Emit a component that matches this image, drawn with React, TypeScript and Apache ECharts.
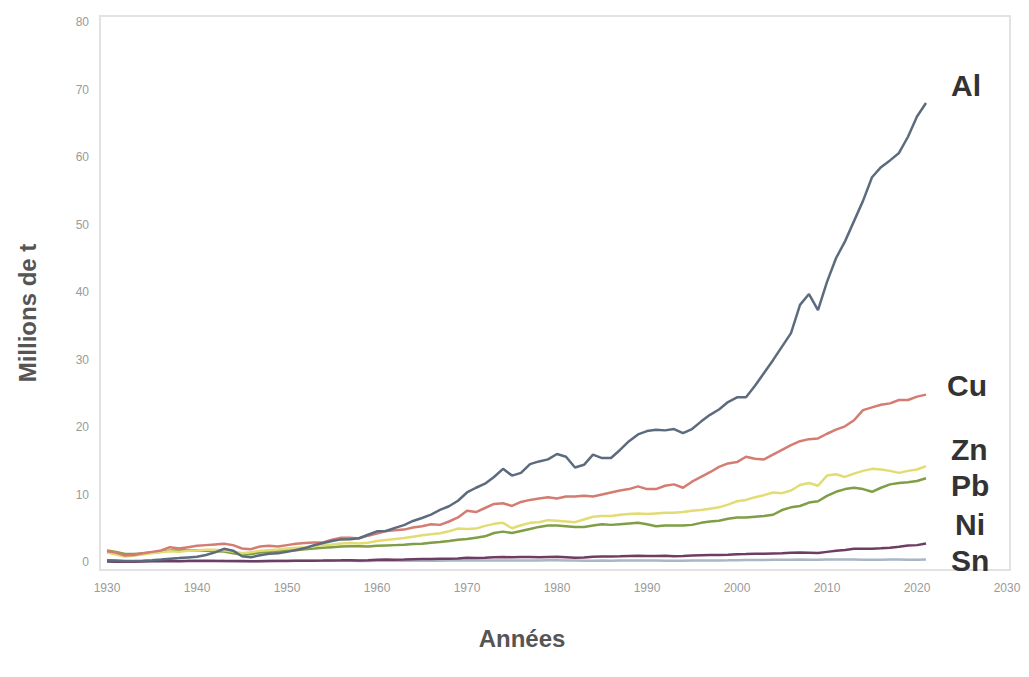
import React, { useEffect, useRef } from "react";
import * as echarts from "echarts";

const years: number[] = Array.from({ length: 92 }, (_, i) => 1930 + i);

const alValues = [
  0.27, 0.22, 0.15, 0.14, 0.17, 0.26, 0.36, 0.49, 0.58, 0.68,
  0.78, 1.03, 1.42, 1.95, 1.68, 0.86, 0.71, 0.99, 1.23, 1.28,
  1.5, 1.78, 2.06, 2.48, 2.81, 3.12, 3.35, 3.38, 3.52, 4.04,
  4.54, 4.59, 5.06, 5.47, 6.08, 6.52, 7.02, 7.71, 8.26, 9.08,
  10.3, 11.0, 11.6, 12.6, 13.8, 12.8, 13.2, 14.5, 14.9, 15.2,
  16.0, 15.6, 14.0, 14.4, 15.9, 15.4, 15.4, 16.6, 17.9, 18.9,
  19.4, 19.6, 19.5, 19.7, 19.1, 19.7, 20.8, 21.8, 22.6, 23.7,
  24.4, 24.4, 26.1, 28.0, 29.9, 31.9, 33.9, 38.1, 39.7, 37.3,
  41.5, 45.0, 47.5, 50.5, 53.5, 57.0, 58.5, 59.5, 60.6, 63.0,
  66.0, 68.0,
];

const cuValues = [
  1.6, 1.4, 0.95, 1.05, 1.3, 1.5, 1.7, 2.2, 2.0, 2.2,
  2.4, 2.5, 2.6, 2.7, 2.5, 2.0, 1.9, 2.3, 2.4, 2.3,
  2.5, 2.7, 2.8, 2.9, 2.9, 3.3, 3.6, 3.6, 3.5, 3.9,
  4.2, 4.6, 4.7, 4.8, 5.1, 5.3, 5.6, 5.5, 6.0, 6.6,
  7.6, 7.4, 8.0, 8.6, 8.7, 8.3, 8.9, 9.2, 9.4, 9.6,
  9.4, 9.7, 9.7, 9.8, 9.7, 10.0, 10.3, 10.6, 10.8, 11.2,
  10.8, 10.8, 11.3, 11.5, 11.0, 11.9, 12.6, 13.3, 14.1, 14.6,
  14.8, 15.6, 15.3, 15.2, 15.9, 16.6, 17.3, 17.9, 18.2, 18.3,
  19.0, 19.6, 20.1, 21.0, 22.5, 22.9, 23.3, 23.5, 24.0, 24.0,
  24.5, 24.8,
];

const znValues = [
  1.4, 1.1, 0.8, 0.95, 1.1, 1.3, 1.45, 1.6, 1.5, 1.65,
  1.7, 1.8, 1.8, 1.75, 1.55, 1.3, 1.45, 1.65, 1.75, 1.85,
  2.0, 2.1, 2.2, 2.35, 2.5, 2.6, 2.75, 2.8, 2.75, 2.85,
  3.1, 3.25, 3.4, 3.55, 3.75, 3.95, 4.1, 4.25, 4.55, 4.95,
  4.9, 4.95, 5.35, 5.65, 5.8, 5.0, 5.45, 5.8, 5.9, 6.2,
  6.1, 6.0, 5.9, 6.3, 6.7, 6.8, 6.8, 7.0, 7.1, 7.2,
  7.1, 7.2, 7.3, 7.3, 7.4, 7.6, 7.7, 7.9, 8.1, 8.5,
  9.0, 9.2, 9.6, 9.9, 10.3, 10.2, 10.6, 11.4, 11.7, 11.3,
  12.8, 13.0, 12.6, 13.1, 13.5, 13.8, 13.7, 13.5, 13.2, 13.5,
  13.7, 14.2,
];

const pbValues = [
  1.7, 1.5, 1.2, 1.2, 1.3, 1.4, 1.5, 1.7, 1.7, 1.75,
  1.7, 1.65, 1.6, 1.55, 1.3, 1.1, 1.2, 1.4, 1.5, 1.6,
  1.7, 1.75, 1.9, 2.0, 2.1, 2.2, 2.3, 2.35, 2.35, 2.3,
  2.4, 2.45, 2.5, 2.55, 2.65, 2.7, 2.85, 2.95, 3.1, 3.3,
  3.4, 3.6, 3.8, 4.3, 4.5, 4.3, 4.6, 4.9, 5.2, 5.4,
  5.4, 5.3, 5.2, 5.2, 5.4, 5.6, 5.5, 5.6, 5.7, 5.8,
  5.6, 5.3, 5.4, 5.4, 5.4, 5.5, 5.8, 6.0, 6.1, 6.4,
  6.6, 6.6, 6.7, 6.8, 7.0, 7.7, 8.1, 8.3, 8.8, 9.0,
  9.8, 10.4, 10.8, 11.0, 10.8, 10.4, 11.0, 11.5, 11.7, 11.8,
  12.0, 12.4,
];

const niValues = [
  0.06, 0.04, 0.03, 0.05, 0.08, 0.1, 0.11, 0.13, 0.12, 0.14,
  0.15, 0.16, 0.16, 0.16, 0.15, 0.13, 0.11, 0.12, 0.13, 0.13,
  0.15, 0.17, 0.18, 0.19, 0.21, 0.24, 0.25, 0.27, 0.22, 0.27,
  0.33, 0.36, 0.34, 0.36, 0.4, 0.43, 0.44, 0.48, 0.49, 0.53,
  0.63, 0.59, 0.64, 0.7, 0.75, 0.7, 0.74, 0.74, 0.7, 0.75,
  0.76, 0.72, 0.62, 0.67, 0.77, 0.8, 0.82, 0.85, 0.89, 0.91,
  0.9, 0.9, 0.91, 0.86, 0.9, 0.98, 1.0, 1.02, 1.04, 1.08,
  1.15, 1.18, 1.22, 1.24, 1.26, 1.28, 1.38, 1.4, 1.37, 1.33,
  1.5, 1.65, 1.78, 1.95, 1.95, 1.98, 2.02, 2.1, 2.25, 2.45,
  2.5, 2.75,
];

const snValues = [
  0.18, 0.15, 0.1, 0.12, 0.14, 0.15, 0.18, 0.21, 0.16, 0.18,
  0.24, 0.24, 0.18, 0.14, 0.12, 0.09, 0.1, 0.14, 0.16, 0.17,
  0.18, 0.17, 0.17, 0.18, 0.18, 0.17, 0.17, 0.17, 0.16, 0.16,
  0.18, 0.17, 0.18, 0.18, 0.18, 0.19, 0.19, 0.2, 0.22, 0.22,
  0.22, 0.22, 0.23, 0.23, 0.23, 0.22, 0.23, 0.23, 0.24, 0.25,
  0.25, 0.24, 0.22, 0.2, 0.2, 0.21, 0.2, 0.21, 0.22, 0.22,
  0.23, 0.22, 0.2, 0.2, 0.2, 0.21, 0.22, 0.23, 0.24, 0.25,
  0.27, 0.28, 0.28, 0.28, 0.33, 0.35, 0.35, 0.36, 0.34, 0.34,
  0.36, 0.37, 0.36, 0.36, 0.35, 0.33, 0.34, 0.36, 0.36, 0.35,
  0.34, 0.38,
];

const seriesNames = ["Sn", "Ni", "Pb", "Zn", "Cu", "Al"];
const seriesColors = ["#a9b6c6", "#6e3d63", "#7f9e45", "#e3dc72", "#d47c72", "#5d6b7e"];
const seriesValues = [snValues, niValues, pbValues, znValues, cuValues, alValues];

const xMin = 1930;
const xMax = 2030;
const xStep = 10;
const yMin = 0;
const yMax = 80;
const yStep = 10;

const yTitle = "Millions de t";
const xTitle = "Années";

export default function App() {
  const ref = useRef<HTMLDivElement>(null);

  useEffect(() => {
    if (!ref.current) return;
    const chart = echarts.init(ref.current, null, { renderer: "svg" });

    const series = seriesNames.map((name, i) => ({
      name,
      type: "line",
      data: years.map((y, j) => [y, seriesValues[i][j]]),
      showSymbol: false,
      symbol: "none",
      lineStyle: { color: seriesColors[i], width: 2.5 },
      itemStyle: { color: seriesColors[i] },
      z: 2 + i,
    }));

    const labelStyle = {
      fill: "#333",
      fontSize: 30,
      fontWeight: "bold",
      fontFamily: "Liberation Sans, Arial, sans-serif",
    };

    chart.setOption({
      animation: false,
      backgroundColor: "#ffffff",
      grid: { left: 107, right: 22, top: 22, bottom: 115, containLabel: false },
      xAxis: {
        type: "value",
        min: xMin,
        max: xMax,
        interval: xStep,
        axisLine: { show: false },
        axisTick: { show: false },
        splitLine: { show: false },
        axisLabel: {
          color: "#9a9a9a",
          fontSize: 12,
          margin: 20,
          fontFamily: "Liberation Sans, Arial, sans-serif",
          formatter: (v: number) => String(v),
        },
      },
      yAxis: {
        type: "value",
        min: yMin,
        max: yMax,
        interval: yStep,
        axisLine: { show: false },
        axisTick: { show: false },
        splitLine: { show: false },
        axisLabel: {
          color: "#9a9a9a",
          fontSize: 12,
          margin: 18,
          fontFamily: "Liberation Sans, Arial, sans-serif",
        },
      },
      graphic: [
        {
          type: "rect",
          shape: { x: 100, y: 16, width: 910, height: 554 },
          style: { fill: "none", stroke: "#e2e2e2", lineWidth: 2 },
          silent: true,
          z: 0,
        },
        {
          type: "text",
          x: 27,
          y: 313,
          rotation: Math.PI / 2,
          style: {
            text: yTitle,
            fill: "#555",
            fontSize: 24,
            fontWeight: "bold",
            fontFamily: "Liberation Sans, Arial, sans-serif",
            align: "center",
            verticalAlign: "middle",
          },
        },
        {
          type: "text",
          x: 522,
          y: 638,
          style: {
            text: xTitle,
            fill: "#555",
            fontSize: 24,
            fontWeight: "bold",
            fontFamily: "Liberation Sans, Arial, sans-serif",
            align: "center",
            verticalAlign: "middle",
          },
        },
        { type: "text", x: 951, y: 85, style: { ...labelStyle, text: "Al", verticalAlign: "middle" } },
        { type: "text", x: 947, y: 385, style: { ...labelStyle, text: "Cu", verticalAlign: "middle" } },
        { type: "text", x: 951, y: 449, style: { ...labelStyle, text: "Zn", verticalAlign: "middle" } },
        { type: "text", x: 951, y: 485, style: { ...labelStyle, text: "Pb", verticalAlign: "middle" } },
        { type: "text", x: 955, y: 524, style: { ...labelStyle, text: "Ni", verticalAlign: "middle" } },
        { type: "text", x: 951, y: 560, style: { ...labelStyle, text: "Sn", verticalAlign: "middle" } },
      ],
      series,
    });

    return () => chart.dispose();
  }, []);

  return <div ref={ref} style={{ width: 1029, height: 677, margin: -8 }} />;
}
